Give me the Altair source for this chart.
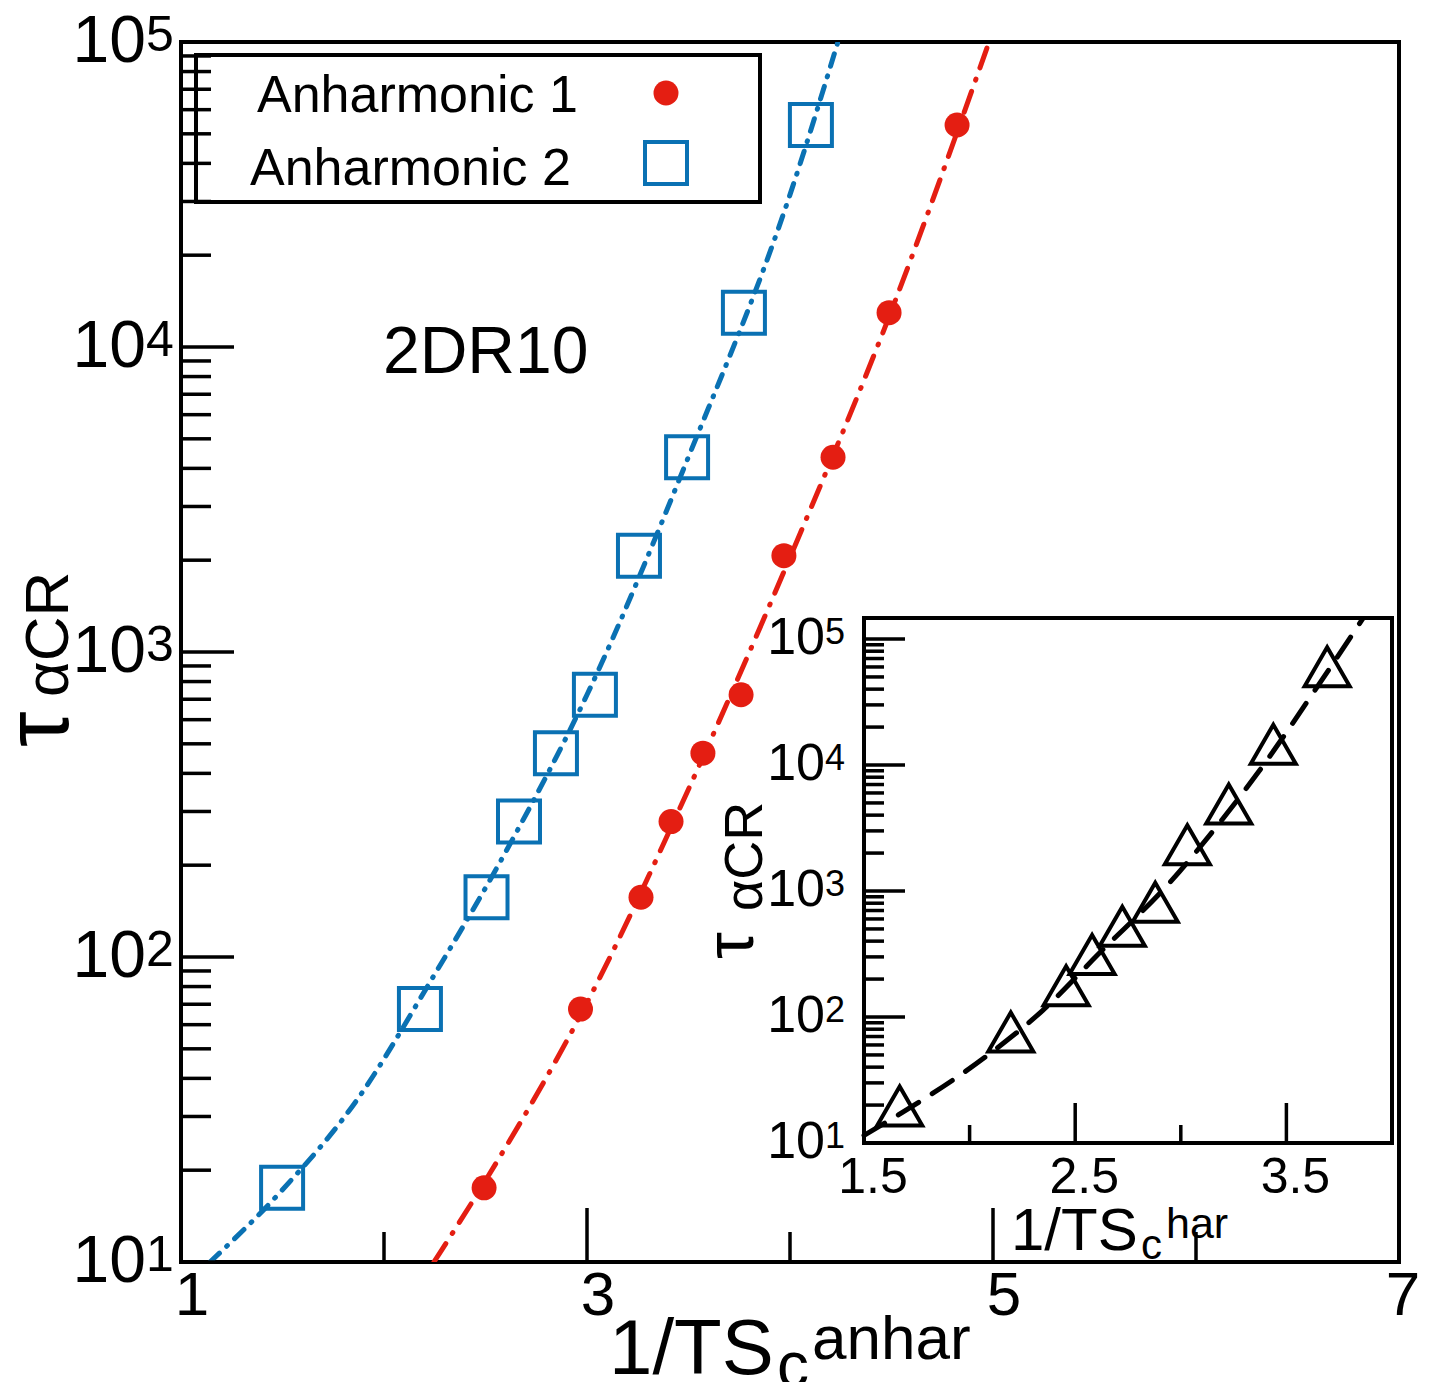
import altair as alt
import pandas as pd

# ---------------- data ----------------
tau = [17.5, 67.5, 157, 278, 466, 724, 2070, 4350, 12960, 53450]
x_anh1 = [2.493, 2.968, 3.266, 3.414, 3.571, 3.759, 3.970, 4.212, 4.488, 4.823]
x_anh2 = [1.498, 2.177, 2.505, 2.665, 2.847, 3.039, 3.256, 3.493, 3.773, 4.103]
x_har = [1.669, 2.195, 2.457, 2.580, 2.723, 2.879, 3.031, 3.227, 3.438, 3.693]

# fit curves
fit1_x = [2.246, 2.5, 3.0, 3.5, 4.0, 4.5, 4.97]
fit1_y = [10, 18.5, 70.8, 355, 2042, 13180, 95500]
fit2_x = [1.143, 1.498, 1.867, 2.227, 2.604, 3.0, 3.5, 4.0, 4.236]
fit2_y = [10, 17.2, 34.0, 82.8, 224, 724, 4365, 31600, 100000]
fith_x = [1.5, 1.649, 2.088, 2.344, 2.61, 2.96, 3.14, 3.37, 3.67, 3.86]
fith_y = [11.5, 16.2, 50.1, 112, 316, 1230, 2818, 8913, 47860, 143600]

series_names = ["Anharmonic 1", "Anharmonic 2"]
panel_label = ["2DR10"]

# ticks / labels
main_x_major = [1, 3, 5, 7]
main_x_minor = [2, 4, 6]
main_x_labels = ["1", "3", "5", "7"]
decades = [10, 100, 1000, 10000, 100000]
decade_exps = ["1", "2", "3", "4", "5"]
minor_mult = [2, 3, 4, 5, 6, 7, 8, 9]
inset_x_major = [1.5, 2.5, 3.5]
inset_x_minor = [2.0, 3.0, 4.0]
inset_x_labels = ["1.5", "2.5", "3.5"]

x_title_parts = ["1/TS", "c", "anhar"]
ix_title_parts = ["1/TS", "c", "har"]
y_title_parts = ["τ", "αCR"]

# ---------------- styling ----------------
FONT = "Liberation Sans"
RED = "#e41e12"
BLUE = "#0a71b3"
W, H = 1218, 1220
INS_L, INS_R, INS_B, INS_T = 683, 1211, 1101, 576

xs = alt.Scale(domain=[1, 7], nice=False, zero=False)
ys = alt.Scale(type="log", domain=[10, 100000], nice=False)
ixs = alt.Scale(domain=[1.5, 4.0], range=[INS_L, INS_R], nice=False, zero=False)
iys = alt.Scale(type="log", domain=[10, 146800], range=[INS_B, INS_T], nice=False)

minor_y = [m * d for d in decades[:-1] for m in minor_mult]

df1 = pd.DataFrame({"x": x_anh1, "tau": tau})
df2 = pd.DataFrame({"x": x_anh2, "tau": tau})
dfh = pd.DataFrame({"x": x_har, "tau": tau})
f1 = pd.DataFrame({"x": fit1_x, "tau": fit1_y})
f2 = pd.DataFrame({"x": fit2_x, "tau": fit2_y})
fh = pd.DataFrame({"x": fith_x, "tau": fith_y})
one = pd.DataFrame({"k": [0]})


def X(s):
    return alt.X("x:Q", scale=s, axis=None)


def Y(s):
    return alt.Y("tau:Q", scale=s, axis=None)


def txt(s, size, x, y, align="left", angle=0):
    return alt.Chart(pd.DataFrame({"t": [s]})).mark_text(
        font=FONT, fontSize=size, align=align, baseline="alphabetic",
        angle=angle, color="black"
    ).encode(text="t:N", x=alt.value(x), y=alt.value(y))


# ---------------- main panel ----------------
legend_box = alt.Chart(one).mark_rect(fill="white", stroke="black", strokeWidth=4).encode(
    x=alt.value(15), x2=alt.value(579), y=alt.value(13), y2=alt.value(160))

yt_major = alt.Chart(pd.DataFrame({"v": decades})).mark_rule(color="black", strokeWidth=3.5).encode(
    y=alt.Y("v:Q", scale=ys, axis=None), x=alt.value(0), x2=alt.value(53))
yt_minor = alt.Chart(pd.DataFrame({"v": minor_y})).mark_rule(color="black", strokeWidth=3.5).encode(
    y=alt.Y("v:Q", scale=ys, axis=None), x=alt.value(0), x2=alt.value(30))
xt_major = alt.Chart(pd.DataFrame({"v": main_x_major})).mark_rule(color="black", strokeWidth=3.5).encode(
    x=alt.X("v:Q", scale=xs, axis=None), y=alt.value(H), y2=alt.value(H - 54))
xt_minor = alt.Chart(pd.DataFrame({"v": main_x_minor})).mark_rule(color="black", strokeWidth=3.5).encode(
    x=alt.X("v:Q", scale=xs, axis=None), y=alt.value(H), y2=alt.value(H - 30))

line1 = alt.Chart(f1).mark_line(color=RED, strokeWidth=5, strokeDash=[22, 12, 1, 12],
                                strokeCap="round", interpolate="monotone", clip=True).encode(X(xs), Y(ys))
line2 = alt.Chart(f2).mark_line(color=BLUE, strokeWidth=5, strokeDash=[13, 10, 1, 10],
                                strokeCap="round", interpolate="monotone", clip=True).encode(X(xs), Y(ys))
pts1 = alt.Chart(df1).mark_point(shape="circle", filled=True, size=625, color=RED, opacity=1).encode(X(xs), Y(ys))
pts2 = alt.Chart(df2).mark_point(shape="square", filled=False, size=1764, strokeWidth=4,
                                 color=BLUE, opacity=1).encode(X(xs), Y(ys))

xlab_df = pd.DataFrame({"v": main_x_major, "t": main_x_labels})
xlab_base = alt.Chart(xlab_df)
xlab_in = xlab_base.transform_filter("datum.v < 7").mark_text(
    font=FONT, fontSize=62, align="center", baseline="alphabetic", dx=11, color="black").encode(
    x=alt.X("v:Q", scale=xs, axis=None), y=alt.value(1273), text="t:N")
xlab_edge = xlab_base.transform_filter("datum.v >= 7").mark_text(
    font=FONT, fontSize=62, align="center", baseline="alphabetic", dx=4, color="black").encode(
    x=alt.X("v:Q", scale=xs, axis=None), y=alt.value(1273), text="t:N")
ylab10 = alt.Chart(pd.DataFrame({"v": decades})).mark_text(
    text="10", font=FONT, fontSize=66, align="right", baseline="alphabetic", dy=20, color="black").encode(
    y=alt.Y("v:Q", scale=ys, axis=None), x=alt.value(-35))
ylabexp = alt.Chart(pd.DataFrame({"v": decades, "e": decade_exps})).mark_text(
    font=FONT, fontSize=50, align="left", baseline="alphabetic", dy=8.5, color="black").encode(
    y=alt.Y("v:Q", scale=ys, axis=None), x=alt.value(-35), text="e:N")

leg_t1 = txt(series_names[0], 52, 76, 70)
leg_t2 = txt(series_names[1], 52, 69, 143)
leg_p1 = alt.Chart(one).mark_point(shape="circle", filled=True, size=625, color=RED, opacity=1).encode(
    x=alt.value(485), y=alt.value(51))
leg_p2 = alt.Chart(one).mark_point(shape="square", filled=False, size=1764, strokeWidth=4,
                                   color=BLUE, opacity=1).encode(x=alt.value(485), y=alt.value(121))

label2dr = txt(panel_label[0], 66, 202, 331)

xt1 = txt(x_title_parts[0], 78, 428, 1332)
xt2 = txt(x_title_parts[1], 64, 596, 1345)
xt3 = txt(x_title_parts[2], 62, 631, 1317)
yt1 = txt(y_title_parts[0], 90, -113, 705, angle=270)
yt2 = txt(y_title_parts[1], 62, -113, 655, angle=270)

main = alt.layer(legend_box, line1, line2, pts1, pts2, yt_major, yt_minor, xt_major, xt_minor,
                 xlab_in, xlab_edge, ylab10, ylabexp, leg_t1, leg_t2, leg_p1, leg_p2, label2dr,
                 xt1, xt2, xt3, yt1, yt2)

# ---------------- inset ----------------
frame = alt.Chart(pd.DataFrame({"x": [1.5], "x2": [4.0], "tau": [10], "tau2": [146800]})).mark_rect(
    fill="white", stroke="black", strokeWidth=4).encode(X(ixs), x2="x2:Q", y=Y(iys), y2="tau2:Q")
iline = alt.Chart(fh).mark_line(color="black", strokeWidth=5, strokeDash=[24, 16],
                                strokeCap="round", interpolate="monotone").encode(X(ixs), Y(iys))
itri = alt.Chart(dfh).mark_point(shape="M0,-1L0.866,0.5L-0.866,0.5Z", size=2704, filled=False,
                                 strokeWidth=4, color="black", opacity=1).encode(X(ixs), Y(iys))
iyt_major = alt.Chart(pd.DataFrame({"v": decades})).mark_rule(color="black", strokeWidth=3.5).encode(
    y=alt.Y("v:Q", scale=iys, axis=None), x=alt.value(INS_L), x2=alt.value(INS_L + 41))
iyt_minor = alt.Chart(pd.DataFrame({"v": minor_y})).mark_rule(color="black", strokeWidth=3.5).encode(
    y=alt.Y("v:Q", scale=iys, axis=None), x=alt.value(INS_L), x2=alt.value(INS_L + 20))
ixt_major = alt.Chart(pd.DataFrame({"v": inset_x_major})).mark_rule(color="black", strokeWidth=3.5).encode(
    x=alt.X("v:Q", scale=ixs, axis=None), y=alt.value(INS_B), y2=alt.value(INS_B - 40))
ixt_minor = alt.Chart(pd.DataFrame({"v": inset_x_minor})).mark_rule(color="black", strokeWidth=3.5).encode(
    x=alt.X("v:Q", scale=ixs, axis=None), y=alt.value(INS_B), y2=alt.value(INS_B - 18))
ixlab = alt.Chart(pd.DataFrame({"v": inset_x_major, "t": inset_x_labels})).mark_text(
    font=FONT, fontSize=50, align="center", baseline="alphabetic", dx=9, color="black").encode(
    x=alt.X("v:Q", scale=ixs, axis=None), y=alt.value(1151), text="t:N")
iylab10 = alt.Chart(pd.DataFrame({"v": decades})).mark_text(
    text="10", font=FONT, fontSize=52, align="right", baseline="alphabetic", dy=15, color="black").encode(
    y=alt.Y("v:Q", scale=iys, axis=None), x=alt.value(644))
iylabexp = alt.Chart(pd.DataFrame({"v": decades, "e": decade_exps})).mark_text(
    font=FONT, fontSize=36, align="left", baseline="alphabetic", dy=5, color="black").encode(
    y=alt.Y("v:Q", scale=iys, axis=None), x=alt.value(644), text="e:N")

ixt1 = txt(ix_title_parts[0], 60, 830, 1208)
ixt2 = txt(ix_title_parts[1], 42, 960, 1217)
ixt3 = txt(ix_title_parts[2], 43, 985, 1196)
iyt1 = txt(y_title_parts[0], 68, 572, 917, angle=270)
iyt2 = txt(y_title_parts[1], 54, 581, 869, angle=270)

inset = alt.layer(frame, iline, itri, iyt_major, iyt_minor, ixt_major, ixt_minor,
                  ixlab, iylab10, iylabexp, ixt1, ixt2, ixt3, iyt1, iyt2)

chart = alt.layer(main, inset).resolve_scale(x="independent", y="independent").properties(
    width=W, height=H,
    padding={"left": 173, "top": 34, "right": 20, "bottom": 120},
    autosize=alt.AutoSizeParams(type="none"),
    background="white",
).configure_view(stroke="black", strokeWidth=4)

chart.save("out.html", embed_options={"renderer": "svg", "actions": False})
